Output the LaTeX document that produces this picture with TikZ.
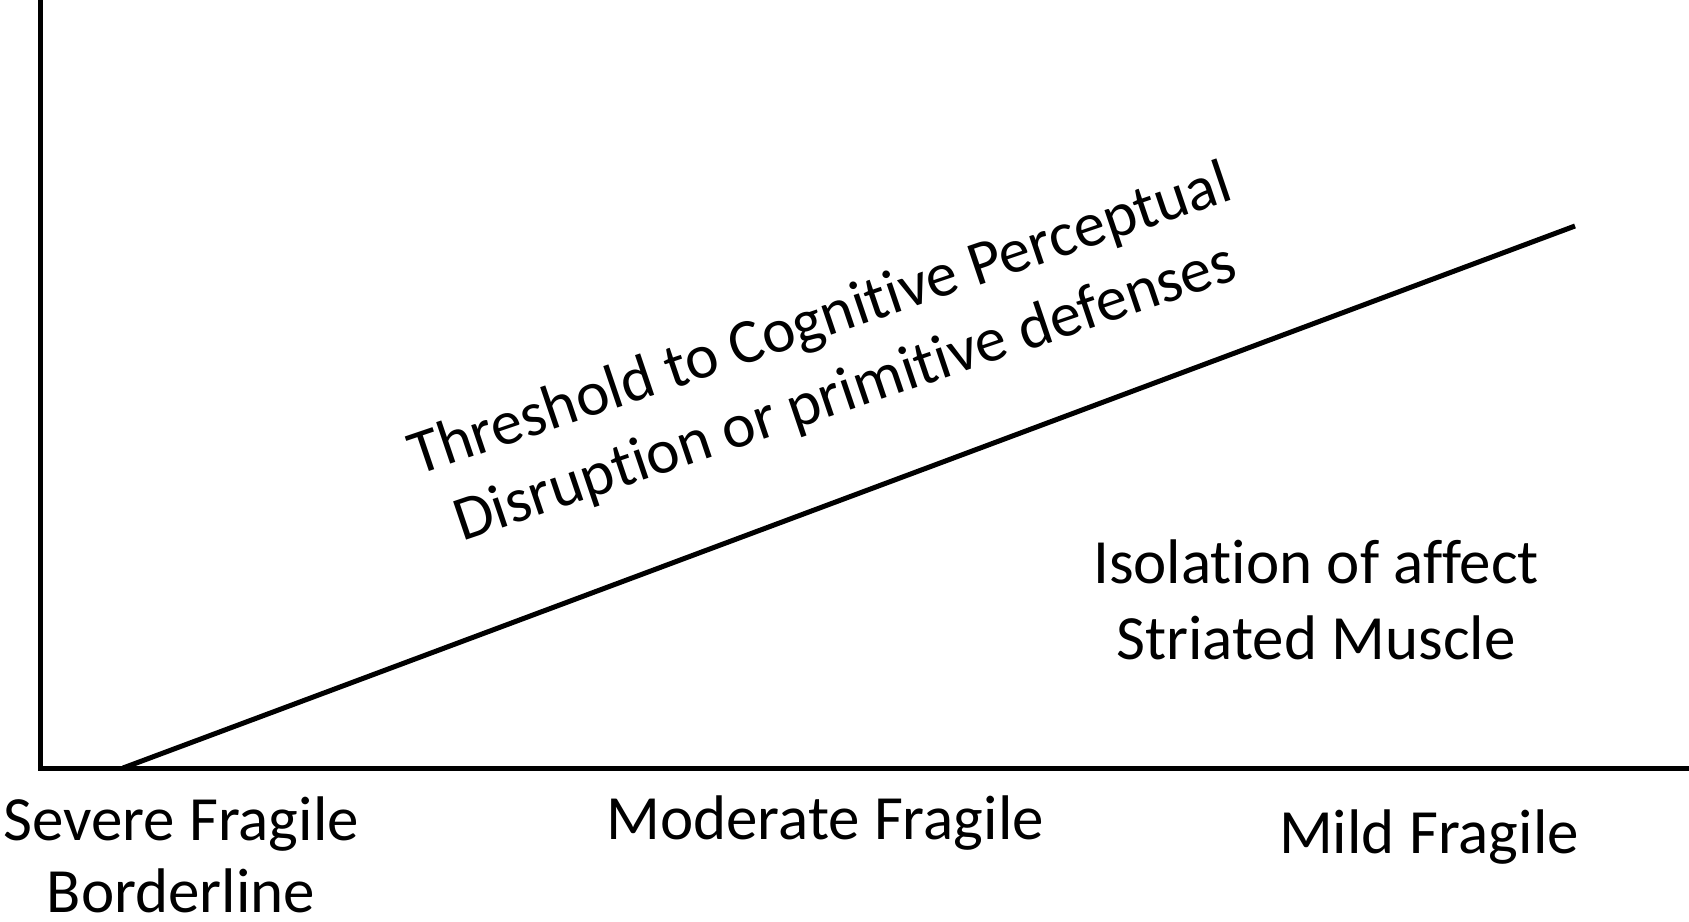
\documentclass[tikz,border=0pt]{standalone}
\usepackage{fontspec}
\setmainfont{Carlito}[Ligatures=NoCommon]
\newcommand\tibrk{\kern0pt\relax}
\begin{document}
\begin{tikzpicture}[x=1pt,y=-1pt,
  axis/.style={line width=5pt, black},
  lbl/.style={inner sep=0pt, align=center, font=\fontsize{63}{74}\selectfont}]
\useasboundingbox (0,0) rectangle (1689,921);
\coordinate (top) at (40,0);
\coordinate (origin) at (40,768);
\coordinate (xend) at (1689,768);
\coordinate (lstart) at (123,768);
\coordinate (lend) at (1575,226);
\draw[axis] (top) -- (origin) -- (xend);
\draw[axis] (lstart) -- (lend);
\node[lbl, anchor=base, font=\fontsize{63}{72}\selectfont] (severe) at (181,912) {Severe Fragile\\Borderline};
\node[lbl, anchor=base] (moderate) at (825,839) {Moderate Fragile};
\node[lbl, anchor=base] (mild) at (1429,853) {Mild Fragile};
\node[lbl, anchor=base, font=\fontsize{63}{76}\selectfont] (isolation) at (1316,659) {Isolat\tibrk ion of affect\\Striated Muscle};
\node[lbl, anchor=base, rotate=18.7, font=\fontsize{63}{77}\selectfont] (threshold) at (851,410) {Threshold to Cognit\tibrk ive Perceptual\\Disrupt\tibrk ion or primit\tibrk ive defenses};
\end{tikzpicture}
\end{document}
